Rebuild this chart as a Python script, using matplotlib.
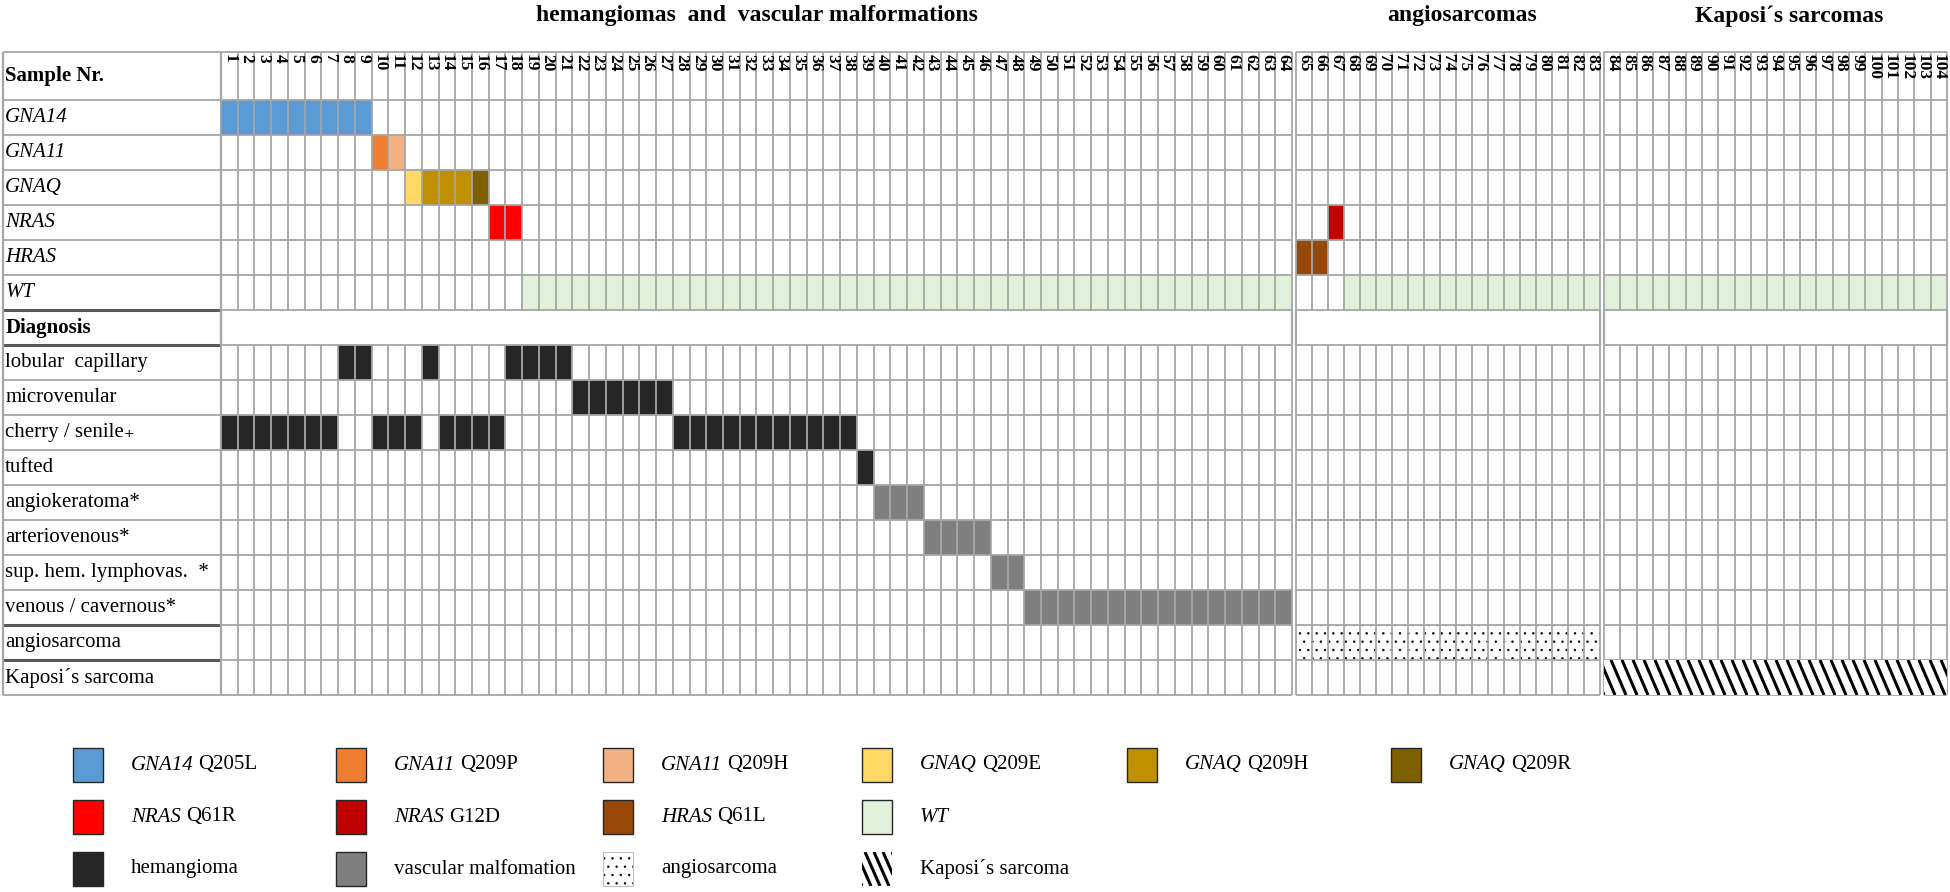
import matplotlib
matplotlib.use("Agg")
import matplotlib.pyplot as plt
from matplotlib.patches import Rectangle
import numpy as np

plt.rcParams['font.family'] = ['Liberation Serif', 'DejaVu Serif']
plt.rcParams['hatch.linewidth'] = 0.5

# ---- data ----
sample_nr = list(range(1, 105))
section_names = ["hemangiomas  and  vascular malformations", "angiosarcomas", "Kaposi´s sarcomas"]
section_sizes = [64, 19, 21]

mutation = (["GNA14 Q205L"] * 9 + ["GNA11 Q209P", "GNA11 Q209H", "GNAQ Q209E"]
            + ["GNAQ Q209H"] * 3 + ["GNAQ Q209R"] + ["NRAS Q61R"] * 2 + ["WT"] * 46
            + ["HRAS Q61L"] * 2 + ["NRAS G12D"] + ["WT"] * 37)

diagnosis = (["cherry / senile"] * 7 + ["lobular  capillary"] * 2 + ["cherry / senile"] * 3
             + ["lobular  capillary"] + ["cherry / senile"] * 4 + ["lobular  capillary"] * 4
             + ["microvenular"] * 6 + ["cherry / senile"] * 11 + ["tufted"]
             + ["angiokeratoma*"] * 3 + ["arteriovenous*"] * 4 + ["sup. hem. lymphovas.  *"] * 2
             + ["venous / cavernous*"] * 16 + ["angiosarcoma"] * 19 + ["Kaposi´s sarcoma"] * 21)

gene_rows = ["GNA14", "GNA11", "GNAQ", "NRAS", "HRAS", "WT"]
diag_rows = ["lobular  capillary", "microvenular", "cherry / senile", "tufted", "angiokeratoma*",
             "arteriovenous*", "sup. hem. lymphovas.  *", "venous / cavernous*", "angiosarcoma",
             "Kaposi´s sarcoma"]
diag_class = {"lobular  capillary": "hemangioma", "microvenular": "hemangioma",
              "cherry / senile": "hemangioma", "tufted": "hemangioma",
              "angiokeratoma*": "vascular malfomation", "arteriovenous*": "vascular malfomation",
              "sup. hem. lymphovas.  *": "vascular malfomation",
              "venous / cavernous*": "vascular malfomation",
              "angiosarcoma": "angiosarcoma", "Kaposi´s sarcoma": "Kaposi´s sarcoma"}

mut_colors = {"GNA14 Q205L": "#5b9bd5", "GNA11 Q209P": "#ed7d31", "GNA11 Q209H": "#f4b183",
              "GNAQ Q209E": "#ffd966", "GNAQ Q209H": "#bf9000", "GNAQ Q209R": "#7f6000",
              "NRAS Q61R": "#ff0000", "NRAS G12D": "#c00000", "HRAS Q61L": "#984807",
              "WT": "#e2efda"}
class_colors = {"hemangioma": "#262626", "vascular malfomation": "#7f7f7f"}

legend_rows = [["GNA14 Q205L", "GNA11 Q209P", "GNA11 Q209H", "GNAQ Q209E", "GNAQ Q209H", "GNAQ Q209R"],
               ["NRAS Q61R", "NRAS G12D", "HRAS Q61L", "WT"],
               ["hemangioma", "vascular malfomation", "angiosarcoma", "Kaposi´s sarcoma"]]

# ---- layout (pixels) ----
W, H = 1950, 892
top, hdr_px, row_px = 52, 48, 35
n_rows = len(gene_rows) + 1 + len(diag_rows)
bottom = top + hdr_px + n_rows * row_px
hdr = hdr_px / row_px
label_px = (3, 221)
sec_px = [(221, 1292), (1296, 1600), (1604, 1947)]
title_shift = [0, 14, 14]
grid_c = "#a6a6a6"
dark_c = "#595959"
diag_row = len(gene_rows)

fig = plt.figure(figsize=(W / 100, H / 100), dpi=100)


def add_px_axes(x0, x1):
    return fig.add_axes([x0 / W, 1 - bottom / H, (x1 - x0) / W, (bottom - top) / H])


def stripes(ax, x0, x1, y0, y1, cw, rh, run_px=15, sp_px=11, lw=2.2, z=3.4):
    clip = Rectangle((x0, y0), x1 - x0, y1 - y0, facecolor="white", lw=0, zorder=z - 0.1)
    ax.add_patch(clip)
    run = run_px / cw * (y1 - y0) * rh / row_px
    sp = sp_px / cw
    for xs in np.arange(x0 - run, x1 + sp, sp):
        ln, = ax.plot([xs, xs + run], [y0, y1], color="black", lw=lw,
                      solid_capstyle="butt", zorder=z)
        ln.set_clip_path(clip)


# legend / background axes in pixel coords
axl = fig.add_axes([0, 0, 1, 1])
axl.set_xlim(0, W)
axl.set_ylim(H, 0)
axl.axis("off")

# label column
axc = add_px_axes(*label_px)
axc.set_xlim(0, 1)
axc.set_ylim(n_rows, -hdr)
axc.axis("off")
axc.text(0.01, -hdr / 2, "Sample Nr.", fontsize=15, fontweight="bold", va="center")
for r, g in enumerate(gene_rows):
    axc.text(0.01, r + 0.5, g, fontsize=15, style="italic", va="center")
axc.text(0.01, diag_row + 0.5, "Diagnosis", fontsize=15, fontweight="bold", va="center")
for r, d in enumerate(diag_rows):
    lab = d + ("₊" if d.startswith("cherry") else "")
    axc.text(0.01, diag_row + 1 + r + 0.5, lab, fontsize=15, va="center")
axc.hlines(np.r_[-hdr, np.arange(0, n_rows + 1)], 0, 1, color=grid_c, lw=1.3, clip_on=False)
axc.hlines([diag_row, diag_row + 1, n_rows - 2, n_rows - 1], 0, 1, color=dark_c, lw=2.2, clip_on=False)
axc.vlines([0, 1], -hdr, n_rows, color=grid_c, lw=1.6, clip_on=False)

# sections
start = 0
for k, n in enumerate(section_sizes):
    x0p, x1p = sec_px[k]
    cw = (x1p - x0p) / n
    ax = add_px_axes(x0p, x1p)
    ax.set_xlim(0, n)
    ax.set_ylim(n_rows, -hdr)
    ax.axis("off")
    kaposi_cells = []
    for i in range(n):
        s = start + i
        mut = mutation[s]
        r = gene_rows.index(mut.split()[0])
        ax.add_patch(Rectangle((i, r), 1, 1, facecolor=mut_colors[mut], lw=0, zorder=1))
        d = diagnosis[s]
        r = diag_row + 1 + diag_rows.index(d)
        cls = diag_class[d]
        if cls in class_colors:
            ax.add_patch(Rectangle((i, r), 1, 1, facecolor=class_colors[cls], lw=0, zorder=1))
        elif cls == "angiosarcoma":
            ax.add_patch(Rectangle((i, r), 1, 1, facecolor="white", edgecolor="black",
                                   hatch="..", lw=0, zorder=1))
        else:
            kaposi_cells.append((i, r))
        ax.text(i + 0.5, -hdr + 0.05, str(sample_nr[s]), rotation=270, ha="center",
                va="top", fontsize=12.5, fontweight="bold", zorder=4)
    if kaposi_cells:
        xs = [c[0] for c in kaposi_cells]
        r = kaposi_cells[0][1]
        stripes(ax, min(xs), max(xs) + 1, r, r + 1, cw, row_px)
    ax.hlines(np.r_[-hdr, np.arange(0, n_rows + 1)], 0, n, color=grid_c, lw=1.3, zorder=3, clip_on=False)
    ax.vlines(np.arange(0, n + 1), -hdr, diag_row, color=grid_c, lw=1.3, zorder=3, clip_on=False)
    ax.vlines(np.arange(0, n + 1), diag_row + 1, n_rows, color=grid_c, lw=1.3, zorder=3, clip_on=False)
    ax.vlines([0, n], diag_row, diag_row + 1, color=grid_c, lw=1.6, zorder=3, clip_on=False)
    fig.text(((x0p + x1p) / 2 + title_shift[k]) / W, 1 - 16 / H, section_names[k],
             ha="center", va="center", fontsize=17, fontweight="bold")
    start += n

# legend
leg_x = [73, 336, 603, 862, 1127, 1391]
leg_y = [765, 817, 869]
sq_w, sq_h = 30, 34
for j, row in enumerate(legend_rows):
    for i, lab in enumerate(row):
        x, y = leg_x[i], leg_y[j] - sq_h / 2
        if lab in mut_colors:
            axl.add_patch(Rectangle((x, y), sq_w, sq_h, facecolor=mut_colors[lab],
                                    edgecolor="#262626", lw=1))
            parts = lab.split(" ", 1)
            t = axl.text(x + 58, leg_y[j], parts[0], fontsize=15, style="italic", va="center")
            if len(parts) > 1:
                axl.annotate(parts[1], xy=(1, 0.5), xycoords=t, xytext=(3.5, 0),
                             textcoords="offset points", fontsize=15, va="center", ha="left")
            continue
        if lab in class_colors:
            axl.add_patch(Rectangle((x, y), sq_w, sq_h, facecolor=class_colors[lab],
                                    edgecolor="#262626", lw=1))
        elif lab == "angiosarcoma":
            axl.add_patch(Rectangle((x, y), sq_w, sq_h, facecolor="white",
                                    edgecolor="black", hatch="..", lw=0))
            axl.add_patch(Rectangle((x, y), sq_w, sq_h, fill=False, edgecolor="#bfbfbf", lw=0.8))
        else:
            stripes(axl, x, x + sq_w, y, y + sq_h, 1, row_px / sq_h, run_px=15, sp_px=9, lw=2.2)
        axl.text(x + 58, leg_y[j], lab, fontsize=15, va="center")

fig.savefig("out.png", dpi=100)
